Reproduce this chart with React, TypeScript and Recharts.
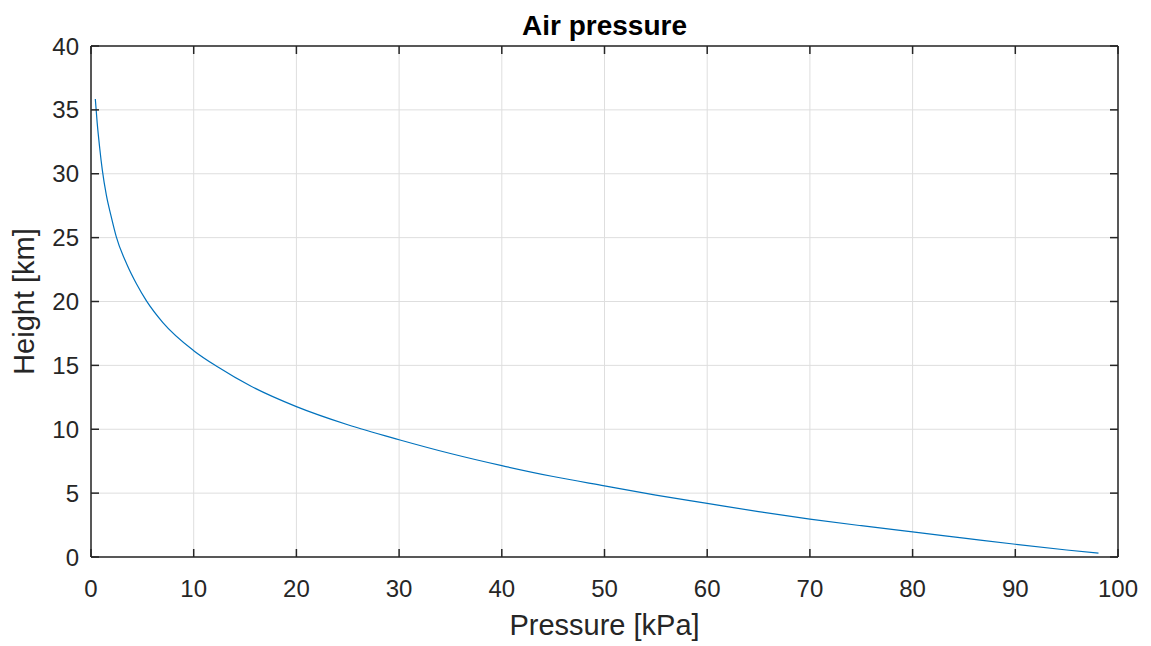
import { CartesianGrid, Line, LineChart, ReferenceLine, XAxis, YAxis } from 'recharts'

// values
const pressure: number[] = [
  0.42, 0.6, 0.85, 1.1, 1.5, 1.95, 2.45, 3.5, 4.45, 5.4, 7.0, 10, 12.4, 15.5,
  20, 25, 30, 35, 40, 45, 50, 55, 60, 65, 70, 75, 80, 85, 90, 95, 98.1,
]
const height: number[] = [
  35.85, 34.0, 32.0, 30.3, 28.3, 26.7, 25.1, 22.9, 21.35, 20.05, 18.35, 16.15,
  14.85, 13.4, 11.77, 10.35, 9.18, 8.1, 7.15, 6.3, 5.57, 4.85, 4.2, 3.55, 2.97,
  2.45, 1.96, 1.48, 1.0, 0.55, 0.3,
]
const xTicks: number[] = [0, 10, 20, 30, 40, 50, 60, 70, 80, 90, 100]
const yTicks: number[] = [0, 5, 10, 15, 20, 25, 30, 35, 40]

const data = pressure.map((p, i) => ({ p, h: height[i] }))

const W = 1135
const H = 638
const PLOT_LEFT = 83
const PLOT_RIGHT = 1110
const PLOT_TOP = 38
const PLOT_BOTTOM = 549
const TICK = 8
const axisColor = '#262626'
const font = '"Liberation Sans", Arial, Helvetica, sans-serif'

const XTick = ({ x, payload }: any) => (
  <g>
    <line x1={x} y1={PLOT_BOTTOM} x2={x} y2={PLOT_BOTTOM - TICK} stroke={axisColor} strokeWidth={1.5} />
    <line x1={x} y1={PLOT_TOP} x2={x} y2={PLOT_TOP + TICK} stroke={axisColor} strokeWidth={1.5} />
    <text x={x} y={PLOT_BOTTOM + 40} textAnchor="middle" fill={axisColor} fontSize={24} fontFamily={font}>
      {payload.value}
    </text>
  </g>
)

const YTick = ({ y, payload }: any) => (
  <g>
    <line x1={PLOT_LEFT} y1={y} x2={PLOT_LEFT + TICK} y2={y} stroke={axisColor} strokeWidth={1.5} />
    <line x1={PLOT_RIGHT} y1={y} x2={PLOT_RIGHT - TICK} y2={y} stroke={axisColor} strokeWidth={1.5} />
    <text x={PLOT_LEFT - 12} y={y + 8.5} textAnchor="end" fill={axisColor} fontSize={24} fontFamily={font}>
      {payload.value}
    </text>
  </g>
)

export default function App() {
  const midY = (PLOT_TOP + PLOT_BOTTOM) / 2
  return (
    <div style={{ width: W, height: H, background: '#fff' }}>
      <LineChart
        width={W}
        height={H}
        data={data}
        style={{ overflow: 'visible' }}
        margin={{ top: PLOT_TOP, right: W - PLOT_RIGHT, bottom: 0, left: 0 }}
      >
        <CartesianGrid stroke="#dedede" strokeWidth={1} />
        <XAxis
          type="number"
          dataKey="p"
          domain={[0, 100]}
          ticks={xTicks}
          height={H - PLOT_BOTTOM}
          tickSize={0}
          tickMargin={0}
          tickLine={false}
          axisLine={{ stroke: axisColor, strokeWidth: 1.5 }}
          tick={XTick}
          interval={0}
        />
        <YAxis
          type="number"
          dataKey="h"
          domain={[0, 40]}
          ticks={yTicks}
          width={PLOT_LEFT}
          tickSize={0}
          tickMargin={0}
          tickLine={false}
          axisLine={{ stroke: axisColor, strokeWidth: 1.5 }}
          tick={YTick}
          interval={0}
        />
        <ReferenceLine y={40} stroke={axisColor} strokeWidth={1.5} />
        <ReferenceLine x={100} stroke={axisColor} strokeWidth={1.5} />
        <Line
          type="monotone"
          dataKey="h"
          stroke="#0072BD"
          strokeWidth={1.2}
          dot={false}
          isAnimationActive={false}
        />
        <text
          x={(PLOT_LEFT + PLOT_RIGHT) / 2}
          y={27}
          textAnchor="middle"
          fontSize={28}
          fontWeight="bold"
          fill="#000"
          fontFamily={font}
        >
          Air pressure
        </text>
        <text
          x={(PLOT_LEFT + PLOT_RIGHT) / 2}
          y={627}
          textAnchor="middle"
          fontSize={29}
          fill={axisColor}
          fontFamily={font}
        >
          Pressure [kPa]
        </text>
        <text
          x={16}
          y={midY}
          transform={`rotate(-90 16 ${midY})`}
          dy={10}
          textAnchor="middle"
          fontSize={29}
          fill={axisColor}
          fontFamily={font}
        >
          Height [km]
        </text>
      </LineChart>
    </div>
  )
}
